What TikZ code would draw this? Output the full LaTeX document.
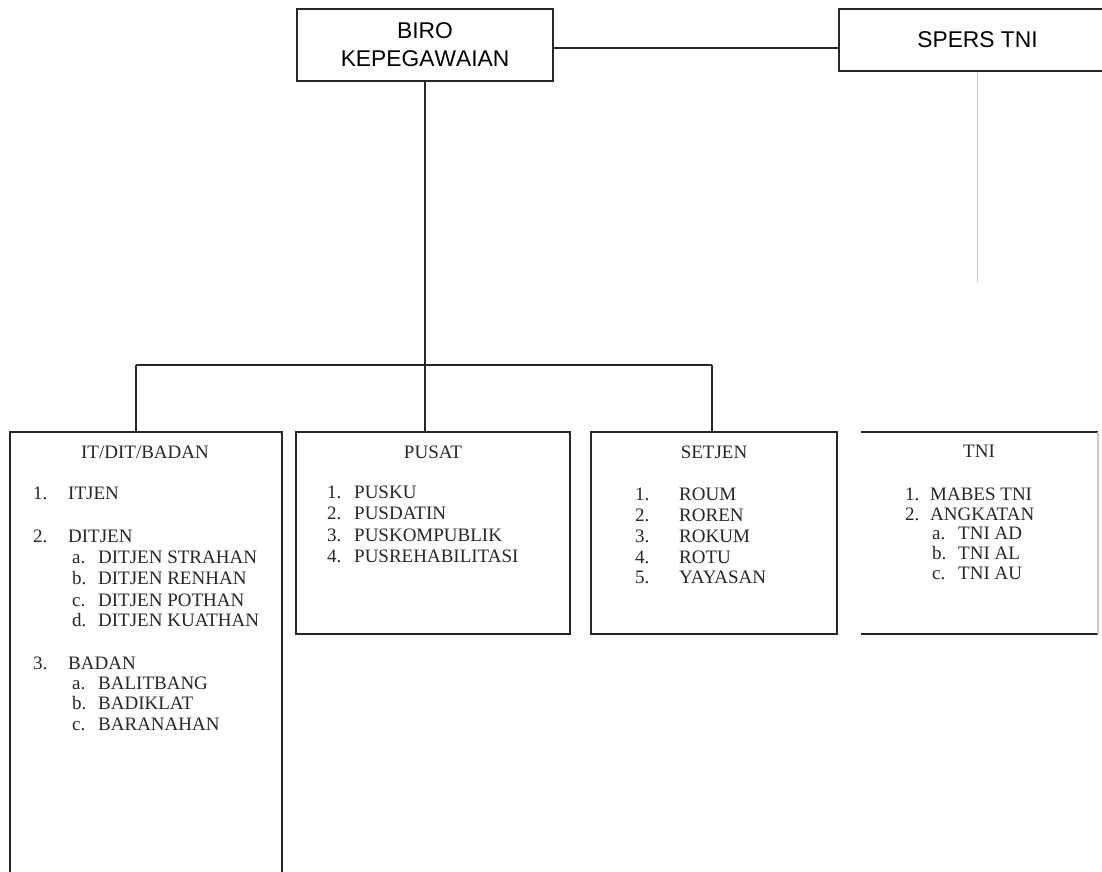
\documentclass[tikz,border=0pt]{standalone}
\usepackage{fontspec}
\setmainfont{Liberation Serif}
\newfontfamily\arialf[Kerning=Off]{Liberation Sans}
\begin{document}
\begin{tikzpicture}[x=1pt,y=-1pt,
  ln/.style={draw=black!85,line width=1.6pt},
  faint/.style={draw=black!22,line width=1.6pt},
  box/.style={rectangle,inner sep=0pt,draw=black!85,line width=1.6pt},
  topbox/.style={box,font=\arialf\fontsize{22.8}{28}\selectfont,align=center},
  itm/.style={anchor=base west,inner sep=0pt,font=\fontsize{19}{21}\selectfont,text=black!85},
  ttl/.style={anchor=base,inner sep=0pt,font=\fontsize{19}{21}\selectfont,text=black!85}]
\useasboundingbox (0,0) rectangle (1102,871);
\clip (0,0) rectangle (1102,871);
% top boxes
\node[topbox,minimum width=256pt,minimum height=72pt] (biro) at (425,45) {BIRO\\KEPEGAWAIAN};
\node[topbox,minimum width=277pt,minimum height=62pt] (spers) at (977.5,40) {SPERS TNI};
% lower boxes
\node[box,minimum width=272pt,minimum height=468pt] (b1) at (146,666) {};
\node[box,minimum width=274pt,minimum height=202pt] (b2) at (433,533) {};
\node[box,minimum width=246pt,minimum height=202pt] (b3) at (714,533) {};
\node[rectangle,inner sep=0pt,minimum width=237pt,minimum height=202pt] (b4) at (979.5,533) {};
\draw[ln] (b4.north west) -- (b4.north east);
\draw[ln] (b4.south west) -- (b4.south east);
\draw[faint] (b4.north east) -- (b4.south east);
% connectors
\coordinate (h) at (0,48);
\coordinate (bus) at (0,365);
\coordinate (dA) at (136,365);
\coordinate (dC) at (712,365);
\coordinate (g) at (0,282);
\draw[ln] (biro.east |- h) -- (spers.west |- h);
\draw[ln] (biro.south) -- (biro.south |- bus);
\draw[ln] (dA) -- (dC);
\draw[ln] (dA) -- (dA |- b1.north);
\draw[ln] (biro.south |- bus) -- (biro.south |- b2.north);
\draw[ln] (dC) -- (dC |- b3.north);
\draw[faint] (spers.south) -- (spers.south |- g);
% box 1
\node[ttl] (t1) at (145,458) {IT/DIT/BADAN};
\foreach \n/\t/\y [count=\i] in {1./ITJEN/499, 2./DITJEN/542, 3./BADAN/669} {
  \node[itm] (a1n\i) at (33,\y) {\n};
  \node[itm] (a1t\i) at (68,\y) {\t};
}
\foreach \n/\t/\y [count=\i] in {a./DITJEN STRAHAN/563, b./DITJEN RENHAN/584, c./DITJEN POTHAN/606, d./DITJEN KUATHAN/626, a./BALITBANG/689, b./BADIKLAT/709, c./BARANAHAN/730} {
  \node[itm] (s1n\i) at (72,\y) {\n};
  \node[itm] (s1t\i) at (98,\y) {\t};
}
% box 2
\node[ttl] (t2) at (433,458) {PUSAT};
\foreach \n/\t/\y [count=\i] in {1./PUSKU/498, 2./PUSDATIN/519, 3./PUSKOMPUBLIK/541, 4./PUSREHABILITASI/562} {
  \node[itm] (a2n\i) at (327,\y) {\n};
  \node[itm] (a2t\i) at (354,\y) {\t};
}
% box 3
\node[ttl] (t3) at (714,458) {SETJEN};
\foreach \n/\t/\y [count=\i] in {1./ROUM/500, 2./ROREN/521, 3./ROKUM/542, 4./ROTU/563, 5./YAYASAN/583} {
  \node[itm] (a3n\i) at (635,\y) {\n};
  \node[itm] (a3t\i) at (679,\y) {\t};
}
% box 4
\node[ttl] (t4) at (979,457) {TNI};
\foreach \n/\t/\y [count=\i] in {1./MABES TNI/500, 2./ANGKATAN/520} {
  \node[itm] (a4n\i) at (905,\y) {\n};
  \node[itm] (a4t\i) at (930,\y) {\t};
}
\foreach \n/\t/\y [count=\i] in {a./TNI AD/539, b./TNI AL/559, c./TNI AU/579} {
  \node[itm] (s4n\i) at (932,\y) {\n};
  \node[itm] (s4t\i) at (958,\y) {\t};
}
\end{tikzpicture}
\end{document}
